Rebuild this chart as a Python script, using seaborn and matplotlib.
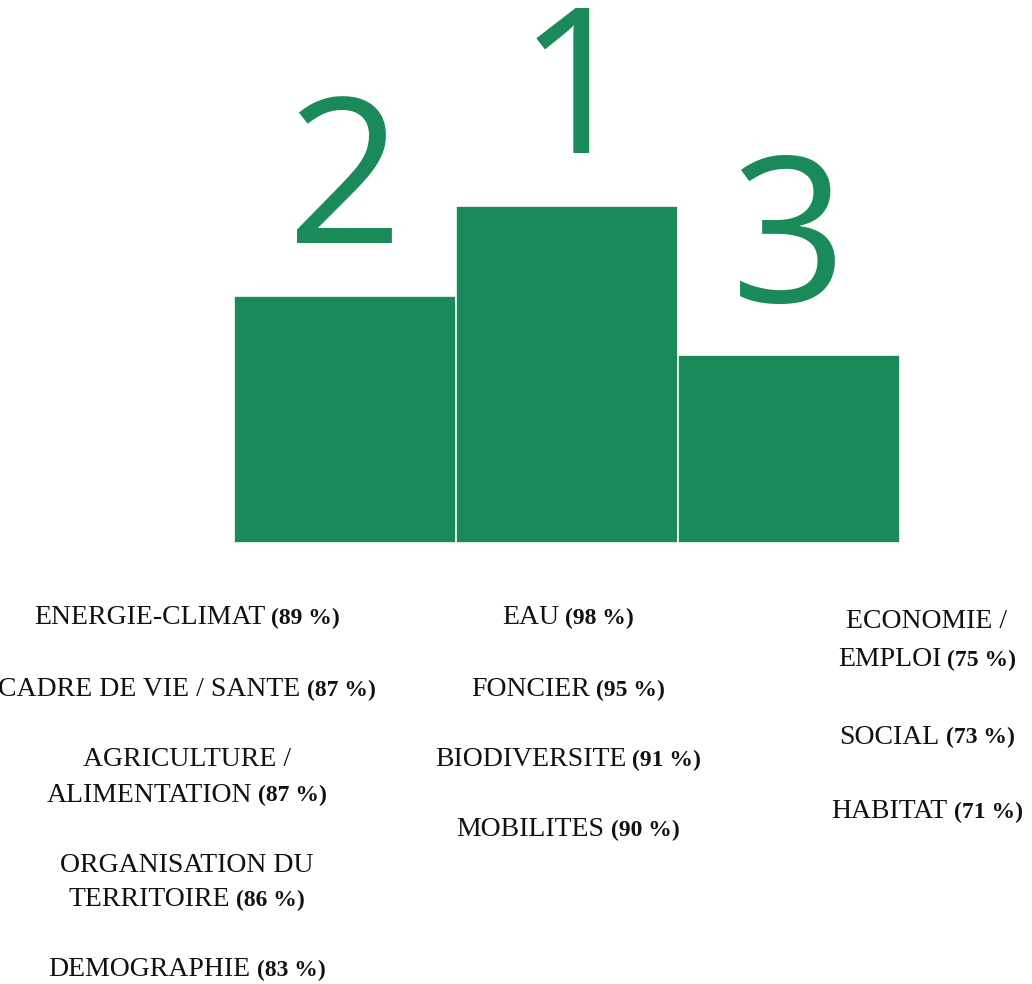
import matplotlib.pyplot as plt
import seaborn as sns
import pandas as pd

# podium blocks (left to right): rank shown above, block height
ranks = ['2', '1', '3']
heights = [247, 337, 188]

# themes under each block: (name, share)
col_second = [('ENERGIE-CLIMAT', '89 %'), ('CADRE DE VIE / SANTE', '87 %'),
              ('AGRICULTURE /\nALIMENTATION', '87 %'),
              ('ORGANISATION DU\nTERRITOIRE', '86 %'), ('DEMOGRAPHIE', '83 %')]
col_first = [('EAU', '98 %'), ('FONCIER', '95 %'), ('BIODIVERSITE', '91 %'),
             ('MOBILITES', '90 %')]
col_third = [('ECONOMIE /\nEMPLOI', '75 %'), ('SOCIAL', '73 %'), ('HABITAT', '71 %')]

GREEN = '#1b8a5a'
W, H = 1032, 984

sns.set_style('white')
plt.rcParams['font.family'] = ['Liberation Serif', 'DejaVu Serif']

fig = plt.figure(figsize=(W / 100, H / 100), dpi=100)
ax = fig.add_axes([0, 0, 1, 1])

df = pd.DataFrame({'rank': ranks, 'height': heights})
sns.barplot(data=df, x='rank', y='height', order=ranks, color=GREEN,
            width=1.0, saturation=1, edgecolor='white', linewidth=1.2, ax=ax)

# one category unit = 222 px, bar bottom at 543 px from the top
unit = 222.0
ax.set_xlim(-345.5 / unit, 2 + (W - 789) / unit)
ax.set_ylim(-(H - 543), 543)
ax.axis('off')

for i, (r, h) in enumerate(zip(ranks, heights)):
    ax.text(i + (0.04 if r == '1' else 0), h + 53, r, ha='center', va='baseline',
            fontsize=146, color=GREEN, family=['Open Sans', 'DejaVu Sans'])

fig.canvas.draw()
renderer = fig.canvas.get_renderer()


def px(x, y):
    return x / W, 1 - y / H


def mixed_line(cx, cy, regular, bold):
    t1 = fig.text(*px(0, cy), regular, fontsize=20, va='center', ha='left', color='#111111')
    t2 = fig.text(*px(0, cy), '(' + bold + ')', fontsize=17, fontweight='bold',
                  va='center', ha='left', color='#111111')
    w1 = t1.get_window_extent(renderer).width
    w2 = t2.get_window_extent(renderer).width
    gap = 6
    x0 = cx - (w1 + gap + w2) / 2
    t1.set_x(x0 / W)
    t2.set_x((x0 + w1 + gap) / W)


def column(cx, items, ys):
    k = 0
    for name, pct in items:
        lines = name.split('\n')
        for line in lines[:-1]:
            fig.text(*px(cx, ys[k]), line, fontsize=20, ha='center', va='center',
                     color='#111111')
            k += 1
        mixed_line(cx, ys[k], lines[-1], pct)
        k += 1


column(187, col_second, [618, 690, 760, 795, 865, 900, 970])
column(568, col_first, [618, 690, 760, 830])
column(927, col_third, [622, 660, 737, 812])

fig.savefig('out.png', dpi=100, facecolor='white')
